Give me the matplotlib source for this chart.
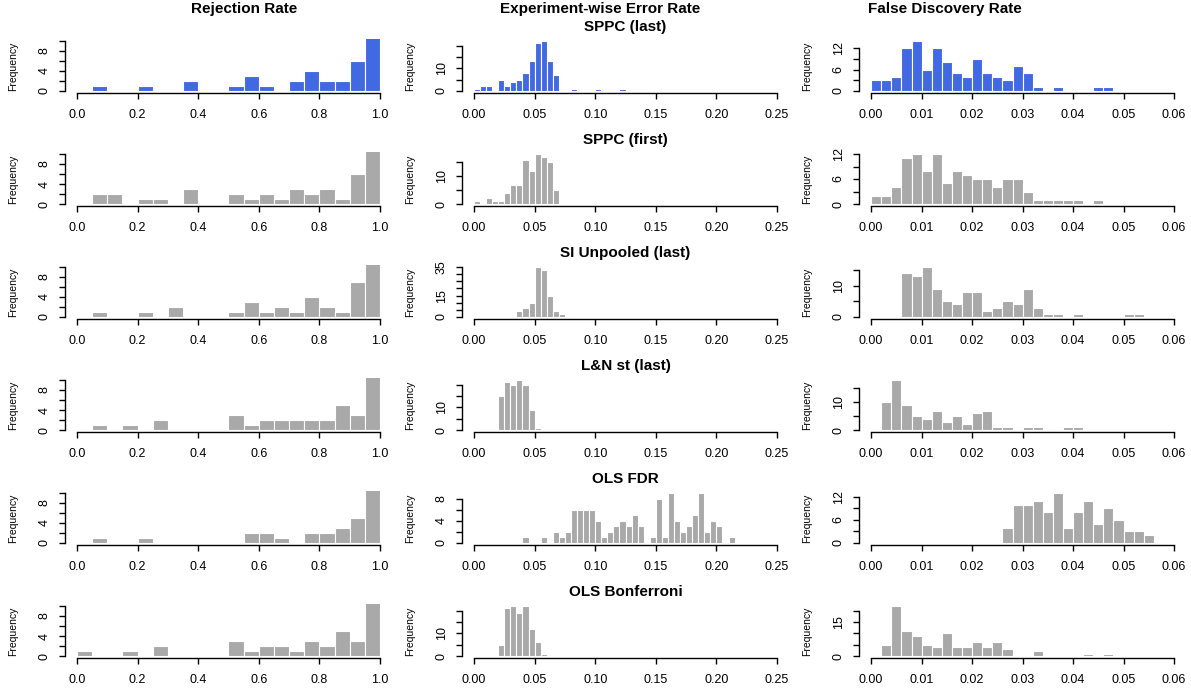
import numpy as np
import matplotlib
matplotlib.use('Agg')
import matplotlib.pyplot as plt

plt.rcParams['font.family'] = ['Liberation Sans', 'DejaVu Sans']

col_titles = ['Rejection Rate', 'Experiment-wise Error Rate', 'False Discovery Rate']
methods = ['SPPC (last)', 'SPPC (first)', 'SI Unpooled (last)',
           'L&N st (last)', 'OLS FDR', 'OLS Bonferroni']

# histogram counts, bins start at 0
rej_bin = 0.05
rej_counts = [
    [0, 1, 0, 0, 1, 0, 0, 2, 0, 0, 1, 3, 1, 0, 2, 4, 2, 2, 6, 11],
    [0, 2, 2, 0, 1, 1, 0, 3, 0, 0, 2, 1, 2, 1, 3, 2, 3, 1, 6, 11],
    [0, 1, 0, 0, 1, 0, 2, 0, 0, 0, 1, 3, 1, 2, 1, 4, 2, 1, 7, 11],
    [0, 1, 0, 1, 0, 2, 0, 0, 0, 0, 3, 1, 2, 2, 2, 2, 2, 5, 3, 11],
    [0, 1, 0, 0, 1, 0, 0, 0, 0, 0, 0, 2, 2, 1, 0, 2, 2, 3, 5, 11],
    [1, 0, 0, 1, 0, 2, 0, 0, 0, 0, 3, 1, 2, 2, 1, 3, 2, 5, 3, 11],
]
rej_ycap = 10

ewer_bin = 0.005
ewer_counts = [
    [1, 2, 2, 0, 5, 2, 4, 5, 8, 13, 21, 22, 13, 7, 0, 0, 1, 0, 0, 0, 1, 0, 0, 0, 1],
    [1, 0, 2, 1, 1, 4, 7, 7, 16, 12, 18, 17, 15, 5],
    [0, 0, 0, 0, 0, 0, 0, 4, 6, 10, 35, 33, 15, 4, 2, 1],
    [0, 0, 0, 0, 15, 21, 20, 22, 20, 9, 1],
    [0, 0, 0, 0, 0, 0, 0, 0, 1, 0, 0, 1, 0, 2, 1, 2, 6, 6, 6, 6, 4, 1, 2, 3,
     4, 3, 5, 3, 0, 1, 8, 1, 9, 4, 2, 3, 5, 9, 2, 4, 3, 0, 1],
    [0, 0, 0, 0, 5, 21, 22, 19, 22, 12, 6, 1],
]

fdr_bin = 0.002
fdr_counts = [
    [3, 3, 4, 12, 14, 6, 12, 8, 5, 4, 9, 5, 4, 3, 7, 5, 1, 0, 1, 0, 0, 0, 1, 1],
    [2, 2, 4, 11, 12, 8, 12, 5, 8, 7, 6, 6, 4, 6, 6, 3, 1, 1, 1, 1, 1, 0, 1],
    [0, 0, 0, 14, 13, 16, 9, 5, 4, 8, 8, 2, 3, 5, 4, 9, 3, 1, 1, 0, 1, 0, 0, 0, 0, 1, 1],
    [0, 10, 18, 9, 5, 4, 7, 3, 5, 2, 6, 7, 1, 1, 0, 1, 1, 0, 0, 1, 1],
    [0, 0, 0, 0, 0, 0, 0, 0, 0, 0, 0, 0, 0, 4, 10, 10, 11, 8, 13, 4, 8, 11, 5, 9, 6, 3, 3, 2],
    [0, 5, 22, 11, 9, 5, 4, 10, 4, 4, 6, 4, 6, 3, 0, 0, 2, 0, 0, 0, 0, 1, 0, 1],
]

# x axes
x_max = [1.0, 0.25, 0.06]
x_ticks = [[0, 0.2, 0.4, 0.6, 0.8, 1.0],
           [0, 0.05, 0.10, 0.15, 0.20, 0.25],
           [0, 0.01, 0.02, 0.03, 0.04, 0.05, 0.06]]
x_ticklabels = [['0.0', '0.2', '0.4', '0.6', '0.8', '1.0'],
                ['0.00', '0.05', '0.10', '0.15', '0.20', '0.25'],
                ['0.00', '0.01', '0.02', '0.03', '0.04', '0.05', '0.06']]

# y axes: (tick step, last tick, labelled ticks)
rej_yaxis = [(2, 10, [0, 4, 8])] * 6
ewer_yaxis = [(5, 20, [0, 10]), (5, 15, [0, 10]), (5, 35, [0, 15, 35]),
              (5, 20, [0, 10]), (2, 8, [0, 4, 8]), (5, 20, [0, 10])]
fdr_yaxis = [(3, 12, [0, 6, 12]), (3, 12, [0, 6, 12]), (5, 15, [0, 10]),
             (5, 15, [0, 10]), (3, 12, [0, 6, 12]), (5, 20, [0, 15])]

BLUE = '#4169E1'
GREY = '#A9A9A9'

W, H = 1191, 693
fig = plt.figure(figsize=(W / 100, H / 100), dpi=100)

col_left = [64.9, 461.9, 859.0]
plot_w = 327.2
plot_h = 54.0
row_top0 = 39.0
row_step = 113.0


def draw_hist(ax, counts, binw, xmax, ytop, yaxis, xt, xtl, color):
    edges = np.arange(len(counts)) * binw
    ax.bar(edges, counts, width=binw, align='edge', color=color,
           edgecolor='white', linewidth=0.8)
    ax.set_xlim(-0.04 * xmax, 1.04 * xmax)
    ax.set_ylim(-0.04 * ytop, 1.04 * ytop)

    step, last, shown = yaxis
    yt = np.arange(0, last + step / 2, step)
    ax.set_yticks(yt)
    ax.set_yticklabels([str(int(v)) if int(v) in shown else '' for v in yt],
                       rotation=90, va='center')
    ax.set_xticks(xt)
    ax.set_xticklabels(xtl)

    for s in ['top', 'right']:
        ax.spines[s].set_visible(False)
    ax.spines['left'].set_bounds(0, last)
    ax.spines['bottom'].set_bounds(0, xmax)
    for s in ['left', 'bottom']:
        ax.spines[s].set_linewidth(1.0)
    ax.tick_params(direction='out', length=4.3, width=1.0, labelsize=9)
    ax.tick_params(axis='x', pad=7.4)
    ax.tick_params(axis='y', pad=6)
    ax.text(-52 / plot_w, 0.5, 'Frequency', transform=ax.transAxes,
            rotation=90, ha='center', va='center', fontsize=7.5)


columns = [
    (rej_counts, rej_bin, rej_yaxis),
    (ewer_counts, ewer_bin, ewer_yaxis),
    (fdr_counts, fdr_bin, fdr_yaxis),
]

for r in range(6):
    top = row_top0 + r * row_step
    for c, (data, binw, yax) in enumerate(columns):
        rect = [col_left[c] / W, 1 - (top + plot_h) / H, plot_w / W, plot_h / H]
        ax = fig.add_axes(rect)
        counts = data[r]
        ytop = rej_ycap if c == 0 else max(counts)
        color = BLUE if r == 0 else GREY
        draw_hist(ax, counts, binw, x_max[c], ytop, yax[r],
                  x_ticks[c], x_ticklabels[c], color)
    # method name above the middle panel
    fig.text((col_left[1] + plot_w / 2) / W, 1 - (top - 12) / H, methods[r],
             ha='center', va='center', fontsize=11, fontweight='bold')

for x, t in zip([244, 600, 945], col_titles):
    fig.text(x / W, 1 - 9 / H, t, ha='center', va='center',
             fontsize=11, fontweight='bold')

fig.savefig('out.png', dpi=100)
